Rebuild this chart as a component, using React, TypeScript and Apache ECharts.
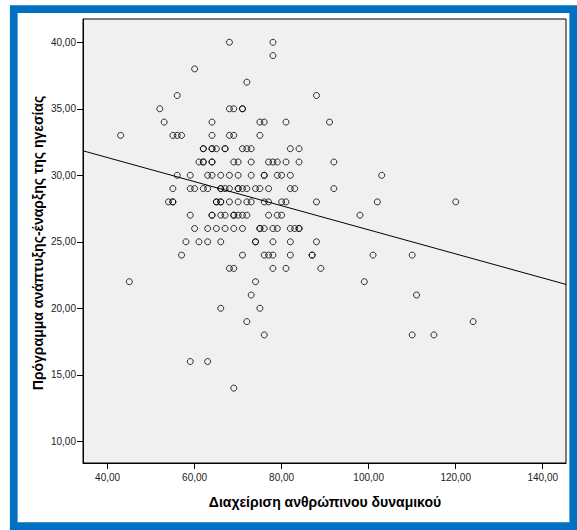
import React, { useEffect, useRef } from "react";
import * as echarts from "echarts";

// y level (Πρόγραμμα ανάπτυξης-έναρξης της ηγεσίας) and the x values observed at that level
const yLevels = [40, 39, 38, 37, 36, 35, 34, 33, 32, 31, 30, 29, 28, 27, 26, 25, 24, 23, 22, 21, 20, 19, 18, 16, 14];
const xAtLevel = [
  [68, 78],
  [78],
  [60],
  [72],
  [56, 88],
  [52, 68, 69, 71, 71],
  [53, 64, 75, 76, 81, 91],
  [43, 55, 56, 57, 64, 68, 69, 75],
  [62, 62, 64, 64, 65, 67, 67, 71, 72, 73, 82, 84],
  [61, 62, 62, 64, 64, 69, 70, 73, 77, 78, 79, 81, 84, 92],
  [56, 59, 63, 64, 66, 68, 70, 73, 76, 76, 79, 80, 82, 103],
  [55, 59, 60, 62, 63, 66, 66, 67, 68, 70, 70, 71, 72, 74, 75, 77, 82, 83, 92],
  [54, 55, 55, 65, 65, 66, 66, 68, 70, 72, 73, 76, 77, 80, 81, 88, 102, 120],
  [59, 64, 64, 66, 67, 69, 69, 70, 71, 72, 77, 79, 80, 98],
  [60, 63, 65, 67, 69, 71, 75, 75, 76, 78, 79, 82, 83, 84, 84],
  [58, 61, 63, 66, 74, 74, 78, 82, 88],
  [57, 71, 76, 77, 78, 82, 87, 87, 101, 110],
  [68, 69, 78, 81, 89],
  [45, 74, 99],
  [73, 111],
  [66, 75],
  [72, 124],
  [76, 110, 115],
  [59, 63],
  [69],
];

const xTicks = [40, 60, 80, 100, 120, 140];
const yTicks = [10, 15, 20, 25, 30, 35, 40];
const xRange = [34.35, 145.35];
const yRange = [8.37, 41.75];

// linear fit line
const fitIntercept = 34.95;
const fitSlope = -0.0905;

const xTitle = "Διαχείριση ανθρώπινου δυναμικού";
const yTitle = "Πρόγραμμα ανάπτυξης-έναρξης της ηγεσίας";

const fmt = (v: number) => v.toFixed(2).replace(".", ",");

export default function App() {
  const ref = useRef<HTMLDivElement>(null);
  useEffect(() => {
    document.body.style.margin = "0";
    if (!ref.current) return;
    const chart = echarts.init(ref.current, undefined, { renderer: "svg" });
    const points: number[][] = [];
    yLevels.forEach((y, i) => xAtLevel[i].forEach((x) => points.push([x, y])));
    const fitData = xRange.map((x) => [x, fitIntercept + fitSlope * x]);
    const font = "'Liberation Sans', Arial, sans-serif";
    chart.setOption({
      animation: false,
      backgroundColor: "#ffffff",
      textStyle: { fontFamily: font },
      grid: {
        left: 83,
        top: 19,
        right: 11,
        bottom: 67,
        show: true,
        backgroundColor: "#F0F0F0",
        borderColor: "#000000",
        borderWidth: 1,
      },
      xAxis: {
        type: "value",
        min: xRange[0],
        max: xRange[1],
        splitLine: { show: false },
        axisLine: { show: true, lineStyle: { color: "#000", width: 1 } },
        axisTick: { show: true, length: 6, customValues: xTicks, lineStyle: { color: "#000" } },
        axisLabel: {
          customValues: xTicks,
          formatter: (v: number) => fmt(v),
          fontSize: 10,
          color: "#222",
          margin: 9,
          fontFamily: font,
        },
      },
      yAxis: {
        type: "value",
        min: yRange[0],
        max: yRange[1],
        splitLine: { show: false },
        axisLine: { show: true, lineStyle: { color: "#000", width: 1 } },
        axisTick: { show: true, length: 6, customValues: yTicks, lineStyle: { color: "#000" } },
        axisLabel: {
          customValues: yTicks,
          formatter: (v: number) => fmt(v),
          fontSize: 10,
          color: "#222",
          margin: 7,
          fontFamily: font,
        },
      },
      graphic: [
        {
          type: "rect",
          shape: { x: 13.75, y: 9, width: 559.5, height: 517 },
          style: { fill: "none", stroke: "#0070C0", lineWidth: 7.75 },
          silent: true,
        },
        {
          type: "text",
          x: 325,
          y: 502,
          style: {
            text: xTitle,
            font: `bold 14px ${font}`,
            fill: "#000",
            align: "center",
            verticalAlign: "middle",
          },
        },
        {
          type: "text",
          x: 38,
          y: 243,
          rotation: Math.PI / 2,
          style: {
            text: yTitle,
            font: `bold 14px ${font}`,
            fill: "#000",
            align: "center",
            verticalAlign: "middle",
          },
        },
      ],
      series: [
        {
          type: "scatter",
          data: points,
          symbol: "circle",
          symbolSize: 6,
          itemStyle: { color: "rgba(0,0,0,0)", borderColor: "#000", borderWidth: 1 },
          z: 3,
        },
        {
          type: "line",
          data: fitData,
          symbol: "none",
          lineStyle: { color: "#000", width: 1 },
          z: 2,
        },
      ],
    });
    return () => chart.dispose();
  }, []);
  return <div ref={ref} style={{ width: 577, height: 530 }} />;
}
